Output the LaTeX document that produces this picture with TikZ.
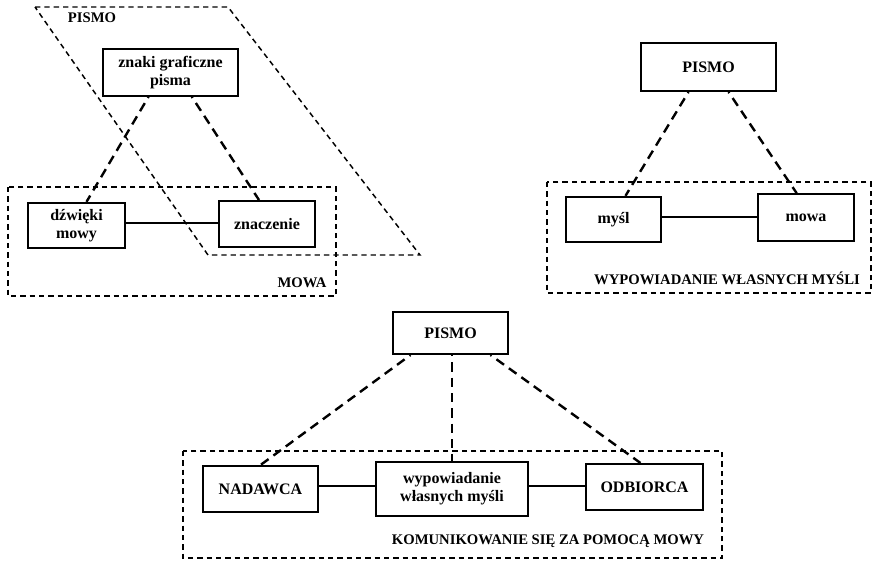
\documentclass[tikz,border=0pt]{standalone}
\usepackage{fontspec}
\setmainfont{Liberation Serif}
\begin{document}
\begin{tikzpicture}[x=0.75pt,y=-0.75pt]
	\tikzset{box/.style = {shape=rectangle,draw,line width=1.5pt,inner sep=1pt,align=center,font=\fontsize{12}{13.5}\selectfont\bfseries}}
	\tikzset{frame/.style = {line width=1.1pt,dash pattern=on 4pt off 3pt}}
	\tikzset{link/.style = {line width=1.8pt,dash pattern=on 7pt off 4.5pt,dash phase=6pt}}
	\tikzset{tie/.style = {line width=1.5pt}}
	\tikzset{tag/.style = {inner sep=0pt,font=\fontsize{11}{12}\selectfont\bfseries}}

	\useasboundingbox (0,0) rectangle (874,565);

	\draw[frame] (35,7) -- (228,7) -- (420,255) -- (208,255) -- cycle;
	\draw[frame] (8,187) rectangle (336,296);
	\node[tag] (p1) at (92,18) {PISMO};
	\node[tag] (m1) at (302,283) {MOWA};

	\node[box,minimum width=101pt,minimum height=35pt] (a) at (170.5,72.5) {znaki graficzne\\pisma};
	\node[box,minimum width=73pt,minimum height=34pt] (b) at (76.5,225.5) {dźwięki\\mowy};
	\node[box,minimum width=72pt,minimum height=34.5pt] (c) at (267,224) {znaczenie};

	\draw[link] ([xshift=-16.5pt]a.south) -- ([xshift=7.5pt]b.north);
	\draw[link] ([xshift=16pt]a.south) -- ([xshift=-6pt]c.north);
	\draw[tie] ([yshift=2pt]b.east) -- ([yshift=2pt]b.east -| c.west);


	\draw[frame] (547,182) rectangle (871,293);
	\node[tag] (w1) at (727,278) {WYPOWIADANIE WŁASNYCH MYŚLI};

	\node[box,minimum width=101pt,minimum height=36pt] (d) at (708.5,67) {PISMO};
	\node[box,minimum width=71pt,minimum height=34pt] (e) at (613.5,219.5) {myśl};
	\node[box,minimum width=72pt,minimum height=35pt] (f) at (806,217.5) {mowa};

	\draw[link] ([xshift=-15pt]d.south) -- ([xshift=9pt]e.north);
	\draw[link] ([xshift=15pt]d.south) -- ([xshift=-7pt]f.north);
	\draw[tie] ([yshift=2pt]e.east) -- ([yshift=2pt]e.east -| f.west);


	\draw[frame] (183,451) rectangle (722,558);
	\node[tag] (k1) at (548,541) {KOMUNIKOWANIE SIĘ ZA POMOCĄ MOWY};

	\node[box,minimum width=86pt,minimum height=31.5pt] (g) at (450.5,333) {PISMO};
	\node[box,minimum width=86pt,minimum height=34.5pt] (h) at (260.5,489) {NADAWCA};
	\node[box,minimum width=114pt,minimum height=40.5pt] (i) at (452,489) {wypowiadanie\\własnych myśli};
	\node[box,minimum width=88pt,minimum height=34.5pt] (j) at (644.5,487) {ODBIORCA};

	\draw[link] ([xshift=-30pt]g.south) -- (h.north);
	\draw[link] (i.north |- g.south) -- (i.north);
	\draw[link] ([xshift=30pt]g.south) -- ([xshift=-3pt]j.north);
	\draw[tie] ([yshift=2pt]h.east) -- ([yshift=2pt]h.east -| i.west);
	\draw[tie] ([yshift=2pt]i.east) -- ([yshift=2pt]i.east -| j.west);

\end{tikzpicture}
\end{document}
